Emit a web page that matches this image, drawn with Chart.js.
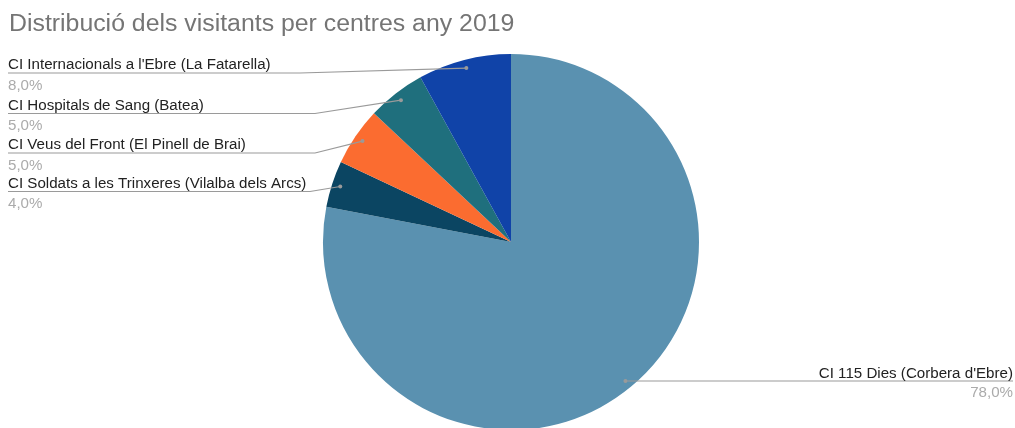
<!DOCTYPE html>
<html>
<head>
<meta charset="utf-8">
<script src="https://cdn.jsdelivr.net/npm/chart.js@4/dist/chart.umd.min.js"></script>
<style>
  html, body { margin: 0; padding: 0; background: #fff; overflow: hidden; }
  #wrap { width: 1015px; height: 440px; }
</style>
</head>
<body>
<div id="wrap"><canvas id="miGrafica" width="1015" height="440"></canvas></div>
<script>
// dades
var titol = "Distribució dels visitants per centres any 2019"
var centres = [
  "CI 115 Dies (Corbera d'Ebre)",
  "CI Soldats a les Trinxeres (Vilalba dels Arcs)",
  "CI Veus del Front (El Pinell de Brai)",
  "CI Hospitals de Sang (Batea)",
  "CI Internacionals a l'Ebre (La Fatarella)"
]
var percentatges = [78, 4, 5, 5, 8]
var colors = ["#5a91b0", "#0b4562", "#fb6c30", "#1f6f7d", "#1043a8"]

// on va cada etiqueta (y de la linia, x del colze)
var etiquetes = [
  { costat: "dreta", liniaY: 381 },
  { costat: "esquerra", liniaY: 191.5, colzeX: 310 },
  { costat: "esquerra", liniaY: 153, colzeX: 315 },
  { costat: "esquerra", liniaY: 113.5, colzeX: 315 },
  { costat: "esquerra", liniaY: 73, colzeX: 300 }
]

var ESTIRA = 1.08 // el text de l'original es una mica ample

function formatPct(v) {
  return v.toFixed(1).replace(".", ",") + "%"
}

function text(ctx, t, x, y, alinea) {
  ctx.save()
  ctx.translate(x, y)
  ctx.scale(ESTIRA, 1)
  ctx.textAlign = alinea
  ctx.fillText(t, 0, 0)
  ctx.restore()
}

var pluginEtiquetes = {
  id: "etiquetes",
  afterDatasetsDraw: function(chart) {
    var ctx = chart.ctx
    var meta = chart.getDatasetMeta(0)
    ctx.save()
    ctx.textBaseline = "alphabetic"
    // titol
    ctx.font = "23px 'Liberation Sans', Arial, sans-serif"
    ctx.fillStyle = "#757575"
    text(ctx, titol, 9, 31, "left")

    meta.data.forEach(function(arc, i) {
      var p = arc.getProps(["x", "y", "startAngle", "endAngle", "outerRadius"], true)
      var mig = (p.startAngle + p.endAngle) / 2
      var dx = p.x + Math.cos(mig) * p.outerRadius * 0.955
      var dy = p.y + Math.sin(mig) * p.outerRadius * 0.955
      var e = etiquetes[i]

      ctx.strokeStyle = "#9a9a9a"
      ctx.lineWidth = 1.2
      ctx.beginPath()
      if (e.costat == "esquerra") {
        ctx.moveTo(8, e.liniaY)
        ctx.lineTo(e.colzeX, e.liniaY)
        ctx.lineTo(dx, dy)
      } else {
        ctx.moveTo(dx, e.liniaY)
        ctx.lineTo(1013, e.liniaY)
      }
      ctx.stroke()

      ctx.fillStyle = "#9a9a9a"
      ctx.beginPath()
      ctx.arc(dx, e.costat == "esquerra" ? dy : e.liniaY, 2, 0, Math.PI * 2)
      ctx.fill()

      ctx.font = "14px 'Liberation Sans', Arial, sans-serif"
      if (e.costat == "esquerra") {
        ctx.fillStyle = "#222"
        text(ctx, centres[i], 8, e.liniaY - 4, "left")
        ctx.fillStyle = "#ababab"
        text(ctx, formatPct(percentatges[i]), 8, e.liniaY + 16.5, "left")
      } else {
        ctx.fillStyle = "#222"
        text(ctx, centres[i], 1013, e.liniaY - 3.5, "right")
        ctx.fillStyle = "#ababab"
        text(ctx, formatPct(percentatges[i]), 1013, e.liniaY + 15.5, "right")
      }
    })
    ctx.restore()
  }
}

new Chart("miGrafica", {
  type: "pie",
  data: {
    labels: centres,
    datasets: [{
      data: percentatges,
      backgroundColor: colors,
      borderWidth: 0
    }]
  },
  options: {
    responsive: false,
    animation: false,
    layout: { padding: { top: 54, bottom: 10, left: 7, right: 0 } },
    plugins: {
      legend: { display: false },
      tooltip: { enabled: false }
    }
  },
  plugins: [pluginEtiquetes]
})
</script>
</body>
</html>
